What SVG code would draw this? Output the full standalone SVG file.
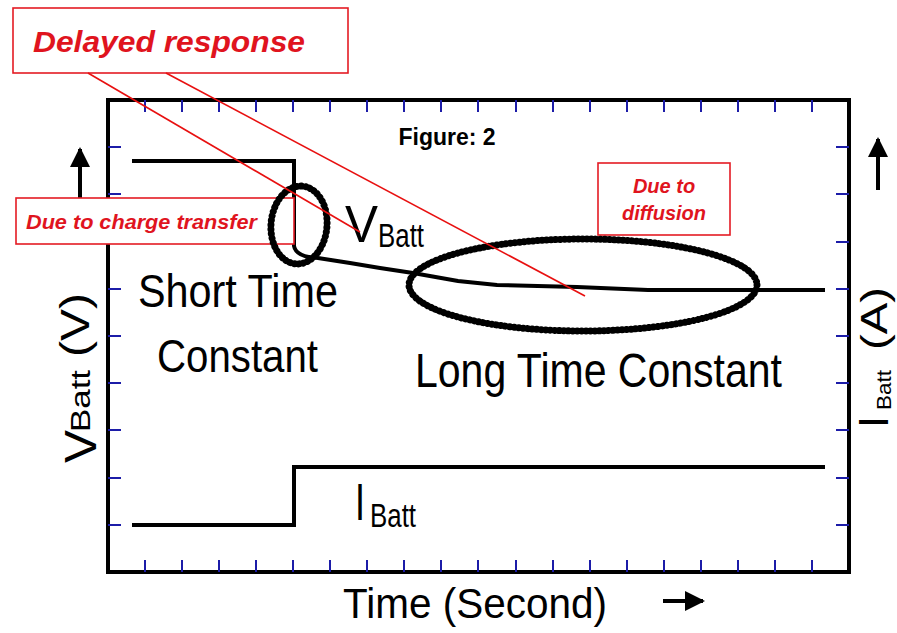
<svg xmlns="http://www.w3.org/2000/svg" width="897" height="633" viewBox="0 0 897 633">
  <defs>
    <style>
      .frame { fill: none; stroke: #000; stroke-width: 4; }
      .tick { stroke: #1c1ca8; stroke-width: 2; }
      .trace { fill: none; stroke: #000; stroke-width: 4; stroke-linejoin: miter; }
      .bead-core { fill: none; stroke: #000; stroke-width: 4; }
      .bead { fill: none; stroke: #000; stroke-width: 7; stroke-dasharray: 0.1 4.4; stroke-linecap: round; }
      .lbl { font-family: "Liberation Sans", Arial, sans-serif; fill: #000; }
      .note-box { fill: #fff; stroke: #e41b23; stroke-width: 1.6; }
      .note { font-family: "Liberation Sans", Arial, sans-serif; font-weight: bold; font-style: italic; fill: #e0141e; }
      .leader { stroke: #e81010; stroke-width: 1.6; fill: none; }
      .arrow { stroke: #000; stroke-width: 4; fill: none; }
    </style>
    <marker id="head" viewBox="0 0 10 10" refX="9" refY="5" markerWidth="6" markerHeight="5" markerUnits="strokeWidth" orient="auto">
      <path d="M0,0 L10,5 L0,10 z" fill="#000"/>
    </marker>
  </defs>

  <rect width="897" height="633" fill="#fff"/>

  <!-- plot frame with tick marks -->
  <g id="axes">
    <rect class="frame" x="108" y="100" width="741" height="472"/>
    <g class="tick">
      <!-- top / bottom ticks every 37.05 px -->
      <path d="M145,100v12M182,100v12M219,100v12M256,100v12M293,100v12M330,100v12M367,100v12M404,100v12M441,100v12M478,100v12M516,100v12M553,100v12M590,100v12M627,100v12M664,100v12M701,100v12M738,100v12M775,100v12M812,100v12"/>
      <path d="M145,572v-12M182,572v-12M219,572v-12M256,572v-12M293,572v-12M330,572v-12M367,572v-12M404,572v-12M441,572v-12M478,572v-12M516,572v-12M553,572v-12M590,572v-12M627,572v-12M664,572v-12M701,572v-12M738,572v-12M775,572v-12M812,572v-12"/>
      <!-- left / right ticks every 47.2 px -->
      <path d="M108,147h13M108,194h13M108,242h13M108,289h13M108,336h13M108,383h13M108,430h13M108,478h13M108,525h13"/>
      <path d="M849,147h-13M849,194h-13M849,242h-13M849,289h-13M849,336h-13M849,383h-13M849,430h-13M849,478h-13M849,525h-13"/>
    </g>
  </g>

  <!-- battery voltage trace -->
  <g id="v-trace">
    <path class="trace" d="M132,161 H294 V246 Q296,257 318,258 L350,263 L380,268 L413,273 L458,281 L497,285 L577,287 L648,290 L825,290"/>
  </g>

  <!-- battery current step -->
  <g id="i-trace">
    <path class="trace" d="M132,525 H294 V467 H825"/>
  </g>

  <!-- axis titles and arrows -->
  <g id="y-left-title" class="lbl">
    <g transform="translate(96,463) rotate(-90)">
      <text x="0" y="0" font-size="45" textLength="33" lengthAdjust="spacingAndGlyphs">V</text>
      <text x="31" y="-6" font-size="27" textLength="62" lengthAdjust="spacingAndGlyphs">Batt</text>
      <text x="106" y="-7" font-size="40" textLength="64" lengthAdjust="spacingAndGlyphs">(V)</text>
    </g>
  </g>
  <g id="y-right-title" class="lbl">
    <g transform="translate(888,428) rotate(-90)">
      <text x="0" y="0" font-size="42" textLength="12" lengthAdjust="spacingAndGlyphs">I</text>
      <text x="18" y="3" font-size="21" textLength="40" lengthAdjust="spacingAndGlyphs">Batt</text>
      <text x="78" y="-1" font-size="37" textLength="63" lengthAdjust="spacingAndGlyphs">(A)</text>
    </g>
  </g>
  <g id="x-title" class="lbl">
    <text x="343" y="618" font-size="43" textLength="264" lengthAdjust="spacingAndGlyphs">Time (Second)</text>
  </g>
  <g id="direction-arrows">
    <line class="arrow" x1="80" y1="205" x2="80" y2="149" marker-end="url(#head)"/>
    <line class="arrow" x1="878" y1="190" x2="878" y2="139" marker-end="url(#head)"/>
    <line class="arrow" x1="663" y1="601" x2="703" y2="601" marker-end="url(#head)"/>
  </g>

  <g id="figure-title" class="lbl">
    <text x="447" y="145" font-size="23" font-weight="bold" text-anchor="middle">Figure: 2</text>
  </g>

  <!-- trace labels -->
  <g id="v-label" class="lbl">
    <text x="345" y="242" font-size="52" textLength="33" lengthAdjust="spacingAndGlyphs">V</text>
    <text x="378" y="247" font-size="33" textLength="46" lengthAdjust="spacingAndGlyphs">Batt</text>
  </g>
  <g id="i-label" class="lbl">
    <text x="355" y="520" font-size="52" textLength="10" lengthAdjust="spacingAndGlyphs">I</text>
    <text x="370" y="527" font-size="34" textLength="46" lengthAdjust="spacingAndGlyphs">Batt</text>
  </g>
  <g id="short-label" class="lbl">
    <text x="138" y="307" font-size="47" textLength="200" lengthAdjust="spacingAndGlyphs">Short Time</text>
    <text x="157" y="372" font-size="47" textLength="161" lengthAdjust="spacingAndGlyphs">Constant</text>
  </g>
  <g id="long-label" class="lbl">
    <text x="415" y="387" font-size="48" textLength="367" lengthAdjust="spacingAndGlyphs">Long Time Constant</text>
  </g>

  <!-- annotation callouts -->
  <g id="note-charge">
    <rect class="note-box" x="16" y="198" width="278" height="46"/>
    <text class="note" x="26" y="229" font-size="20" textLength="231" lengthAdjust="spacingAndGlyphs">Due to charge transfer</text>
  </g>
  <g id="note-diffusion">
    <rect class="note-box" x="598" y="163" width="132" height="72"/>
    <text class="note" x="664" y="193" font-size="20" text-anchor="middle">Due to</text>
    <text class="note" x="664" y="220" font-size="20" text-anchor="middle">diffusion</text>
  </g>
  <g id="note-delay">
    <rect class="note-box" x="13" y="8" width="335" height="65" stroke-width="2"/>
    <text class="note" x="33" y="52" font-size="30" fill="#f00" textLength="272" lengthAdjust="spacingAndGlyphs">Delayed response</text>
  </g>

  <!-- dotted regions marking the two time constants -->
  <g id="short-ellipse">
    <ellipse class="bead-core" cx="299" cy="225" rx="28" ry="39" transform="rotate(5 299 225)"/>
    <ellipse class="bead" cx="299" cy="225" rx="28" ry="39" transform="rotate(5 299 225)"/>
  </g>
  <g id="long-ellipse">
    <ellipse class="bead-core" cx="583" cy="285" rx="174" ry="46"/>
    <ellipse class="bead" cx="583" cy="285" rx="174" ry="46"/>
  </g>

  <!-- leader lines from the delay callout -->
  <g id="connectors">
    <line class="leader" x1="88" y1="73" x2="360" y2="232"/>
    <line class="leader" x1="166" y1="73" x2="585" y2="296"/>
  </g>
</svg>
